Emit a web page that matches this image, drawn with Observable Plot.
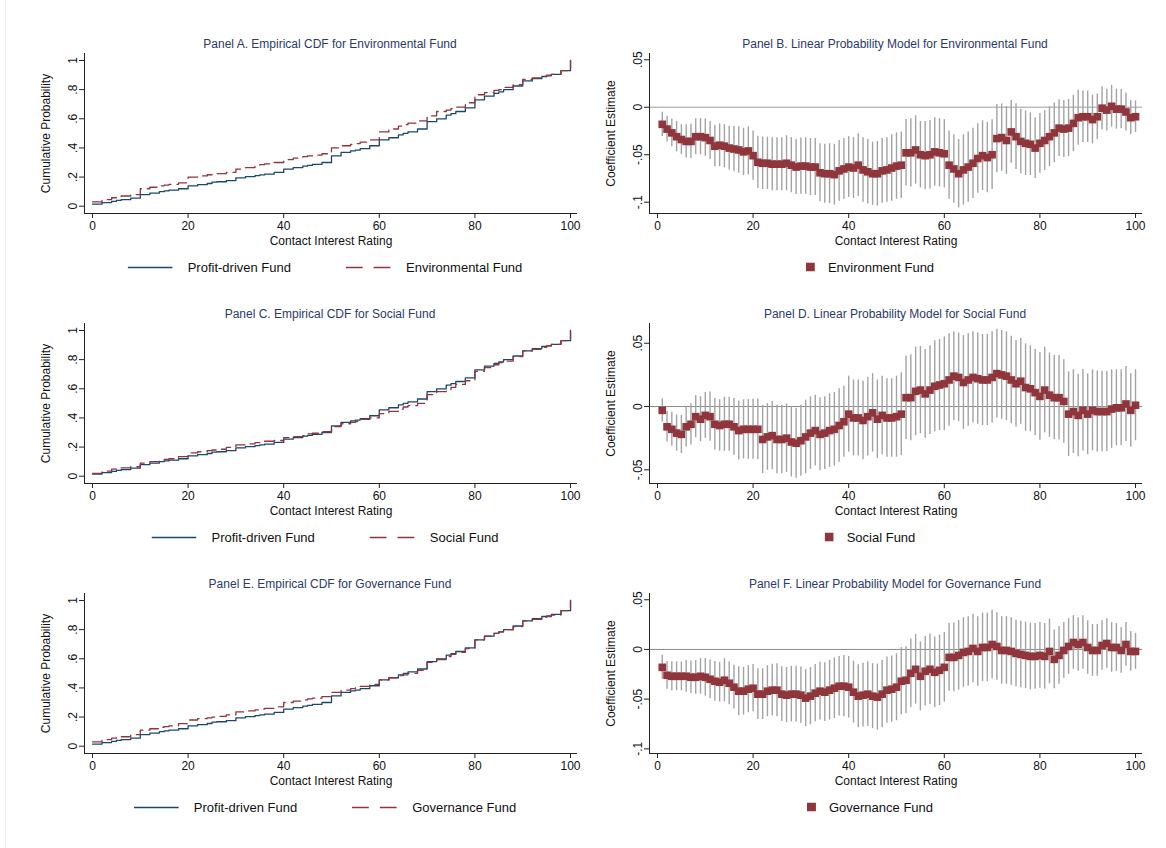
<!DOCTYPE html>
<html><head><meta charset="utf-8">
<script src="https://cdn.jsdelivr.net/npm/d3@7"></script>
<script src="https://cdn.jsdelivr.net/npm/@observablehq/plot@0.6"></script>
<style>
body{margin:0;background:#fff;font-family:"Liberation Sans",Arial,Helvetica,sans-serif;}
#root{position:relative;width:1166px;height:848px;overflow:hidden;background:#fff}
.title{position:absolute;font-size:12px;color:#2b3a67;white-space:nowrap;transform:translate(-50%,-50%)}
.legend{position:absolute;display:flex;align-items:center;font-size:13px;color:#111;white-space:nowrap;transform:translate(-50%,-50%)}
.edge{position:absolute;left:5px;top:0;width:1px;height:848px;background:#ececec}
</style></head><body><div id="root"><div class="edge"></div></div>
<script>
// ---------- data ----------
const xTicks = [0, 20, 40, 60, 80, 100];
const cdfYTicks = [0, 0.2, 0.4, 0.6, 0.8, 1];
const cdfYLabels = ["0", ".2", ".4", ".6", ".8", "1"];
const coefYTicksWide = [-0.1, -0.05, 0, 0.05];
const coefYLabelsWide = ["-.1", "-.05", "0", ".05"];
const coefYTicksNarrow = [-0.05, 0, 0.05];
const coefYLabelsNarrow = ["-.05", "0", ".05"];

const panelTitles = [
  "Panel A. Empirical CDF for Environmental Fund",
  "Panel B. Linear Probability Model for Environmental Fund",
  "Panel C. Empirical CDF for Social Fund",
  "Panel D. Linear Probability Model for Social Fund",
  "Panel E. Empirical CDF for Governance Fund",
  "Panel F. Linear Probability Model for Governance Fund"
];
const fundNames = ["Environmental Fund", "Social Fund", "Governance Fund"];
const coefLegendNames = ["Environment Fund", "Social Fund", "Governance Fund"];
const baseName = "Profit-driven Fund";

// Empirical CDF, read at these ratings (step-after)
const cdfX = [0,2,4,5,6,8, 10,12,14,15,16,18, 20,22,24,25,26,28, 30,32,34,35,36,38, 40,42,44,45,46,48,
  50,52,54,55,56,58, 60,62,64,65,66,68, 70,72,74,75,76,78, 80,82,84,85,86,88, 90,92,94,95,96,98, 100];
const cdfProfit = [0.015,0.025,0.033,0.04,0.045,0.055, 0.08,0.09,0.10,0.105,0.11,0.12, 0.14,0.148,0.156,0.165,0.168,0.175,
  0.195,0.203,0.21,0.215,0.22,0.232, 0.255,0.265,0.275,0.28,0.287,0.30, 0.345,0.37,0.38,0.385,0.395,0.415,
  0.455,0.47,0.49,0.50,0.51,0.53, 0.58,0.60,0.625,0.635,0.65,0.675, 0.73,0.755,0.775,0.785,0.80,0.825,
  0.86,0.875,0.89,0.895,0.905,0.93, 1.0];
const cdfEnv = [0.03,0.045,0.058,0.065,0.07,0.08, 0.12,0.13,0.14,0.145,0.15,0.16, 0.20,0.208,0.216,0.22,0.224,0.232,
  0.255,0.265,0.275,0.285,0.29,0.30, 0.32,0.33,0.34,0.345,0.35,0.36, 0.40,0.415,0.425,0.43,0.44,0.455,
  0.51,0.53,0.55,0.56,0.57,0.585, 0.62,0.65,0.66,0.67,0.68,0.71, 0.765,0.78,0.795,0.80,0.815,0.835,
  0.87,0.88,0.89,0.90,0.905,0.93, 1.0];
const cdfSocial = [0.02,0.035,0.048,0.055,0.057,0.065, 0.09,0.10,0.11,0.115,0.12,0.135, 0.16,0.168,0.175,0.18,0.185,0.198,
  0.215,0.222,0.23,0.235,0.24,0.245, 0.265,0.272,0.278,0.29,0.295,0.305, 0.34,0.36,0.37,0.375,0.39,0.40,
  0.43,0.445,0.46,0.475,0.485,0.50, 0.56,0.58,0.59,0.61,0.63,0.655, 0.72,0.745,0.765,0.78,0.79,0.82,
  0.86,0.87,0.885,0.895,0.905,0.93, 1.0];
const cdfGov = [0.03,0.045,0.055,0.06,0.065,0.08, 0.11,0.12,0.13,0.135,0.14,0.155, 0.18,0.19,0.195,0.20,0.205,0.215,
  0.235,0.242,0.25,0.255,0.26,0.27, 0.30,0.31,0.318,0.325,0.33,0.34, 0.37,0.385,0.395,0.40,0.41,0.425,
  0.455,0.47,0.485,0.49,0.50,0.52, 0.575,0.595,0.615,0.63,0.645,0.67, 0.73,0.755,0.775,0.785,0.80,0.82,
  0.86,0.87,0.885,0.89,0.90,0.93, 1.0];

// Linear probability model: rating thresholds 1..100
const ratings = d3.range(1, 101);
const estEnv = [-0.018,-0.023,-0.027,-0.031,-0.034,-0.036,-0.036,-0.031,-0.031,-0.032,
 -0.035,-0.041,-0.040,-0.041,-0.043,-0.044,-0.045,-0.047,-0.046,-0.051,
 -0.058,-0.059,-0.059,-0.060,-0.060,-0.060,-0.059,-0.061,-0.063,-0.062,
 -0.062,-0.063,-0.063,-0.069,-0.070,-0.070,-0.071,-0.067,-0.065,-0.063,
 -0.064,-0.061,-0.066,-0.068,-0.070,-0.070,-0.067,-0.066,-0.064,-0.062,
 -0.061,-0.048,-0.048,-0.045,-0.050,-0.051,-0.050,-0.047,-0.048,-0.049,
 -0.061,-0.065,-0.070,-0.066,-0.063,-0.059,-0.054,-0.051,-0.053,-0.050,
 -0.033,-0.032,-0.035,-0.026,-0.031,-0.036,-0.038,-0.039,-0.043,-0.038,
 -0.035,-0.031,-0.027,-0.022,-0.023,-0.022,-0.017,-0.011,-0.010,-0.010,
 -0.013,-0.010,-0.001,-0.003,0.001,-0.002,-0.002,-0.005,-0.011,-0.010];
const ciEnv = [0.0127,0.0136,0.0145,0.016,0.0157,0.0175,0.018,0.019,0.019,0.0195,
 0.020,0.0217,0.0225,0.0227,0.023,0.0238,0.0245,0.025,0.0253,0.026,
 0.0275,0.0276,0.0276,0.028,0.028,0.028,0.029,0.029,0.029,0.0297,
 0.0297,0.030,0.030,0.0306,0.031,0.0315,0.032,0.032,0.032,0.032,
 0.032,0.033,0.034,0.034,0.0332,0.034,0.034,0.034,0.035,0.035,
 0.035,0.035,0.036,0.036,0.035,0.036,0.036,0.036,0.036,0.036,
 0.036,0.036,0.036,0.037,0.037,0.037,0.0367,0.0367,0.037,0.0367,
 0.036,0.0355,0.0357,0.033,0.0346,0.034,0.034,0.033,0.032,0.0315,
 0.0315,0.0315,0.0315,0.030,0.030,0.030,0.0297,0.029,0.027,0.027,
 0.0257,0.024,0.0227,0.022,0.022,0.021,0.0206,0.020,0.018,0.0166];
const estSocial = [-0.003,-0.016,-0.018,-0.021,-0.022,-0.016,-0.014,-0.008,-0.010,-0.007,
 -0.008,-0.014,-0.015,-0.014,-0.014,-0.016,-0.019,-0.018,-0.018,-0.018,
 -0.018,-0.026,-0.024,-0.023,-0.026,-0.026,-0.025,-0.028,-0.029,-0.027,
 -0.024,-0.021,-0.019,-0.022,-0.021,-0.019,-0.018,-0.015,-0.012,-0.006,
 -0.009,-0.009,-0.011,-0.008,-0.005,-0.010,-0.007,-0.009,-0.009,-0.008,
 -0.006,0.007,0.007,0.012,0.013,0.010,0.013,0.016,0.017,0.018,
 0.021,0.024,0.023,0.019,0.021,0.023,0.022,0.021,0.021,0.023,
 0.026,0.025,0.024,0.021,0.018,0.020,0.015,0.014,0.011,0.008,
 0.013,0.009,0.007,0.007,0.004,-0.006,-0.004,-0.007,-0.003,-0.006,
 -0.003,-0.004,-0.004,-0.004,-0.002,-0.001,-0.001,0.002,-0.003,0.001];
const ciSocial = [0.0092,0.012,0.0134,0.0143,0.015,0.016,0.0163,0.0167,0.0178,0.018,
 0.0195,0.0204,0.0204,0.0214,0.0214,0.0224,0.0233,0.0233,0.0237,0.0237,
 0.024,0.027,0.0263,0.027,0.027,0.027,0.027,0.0276,0.0276,0.028,
 0.029,0.0287,0.028,0.0287,0.0287,0.029,0.029,0.029,0.028,0.030,
 0.030,0.030,0.031,0.031,0.031,0.031,0.031,0.031,0.031,0.032,
 0.0326,0.033,0.034,0.035,0.0345,0.035,0.035,0.036,0.036,0.037,
 0.0366,0.035,0.035,0.037,0.0365,0.036,0.036,0.036,0.036,0.036,
 0.035,0.035,0.035,0.0345,0.0342,0.034,0.0345,0.034,0.034,0.0346,
 0.0338,0.0333,0.0333,0.0333,0.033,0.0335,0.033,0.0326,0.0322,0.032,
 0.032,0.032,0.0318,0.0316,0.031,0.030,0.030,0.0296,0.029,0.028];
const estGov = [-0.018,-0.026,-0.027,-0.027,-0.027,-0.027,-0.028,-0.028,-0.027,-0.028,
 -0.030,-0.032,-0.033,-0.031,-0.034,-0.038,-0.042,-0.042,-0.040,-0.039,
 -0.045,-0.045,-0.042,-0.041,-0.041,-0.045,-0.046,-0.045,-0.045,-0.046,
 -0.049,-0.047,-0.044,-0.042,-0.043,-0.041,-0.039,-0.037,-0.037,-0.038,
 -0.043,-0.047,-0.046,-0.045,-0.047,-0.048,-0.045,-0.041,-0.040,-0.038,
 -0.032,-0.031,-0.024,-0.020,-0.027,-0.022,-0.020,-0.023,-0.021,-0.018,
 -0.008,-0.008,-0.006,-0.003,-0.002,0.001,-0.002,0.002,0.002,0.005,
 0.003,-0.001,-0.001,-0.002,-0.004,-0.005,-0.006,-0.007,-0.007,-0.006,
 -0.007,-0.002,-0.010,-0.006,-0.001,0.003,0.007,0.005,0.007,0.002,
 -0.001,-0.001,0.004,0.006,0.002,0.002,-0.001,0.005,-0.002,-0.002];
const ciGov = [0.012,0.014,0.0145,0.0145,0.0145,0.016,0.0163,0.017,0.018,0.0188,
 0.0195,0.020,0.020,0.0217,0.0217,0.022,0.0247,0.024,0.0237,0.0238,
 0.0255,0.0255,0.0257,0.026,0.0267,0.0275,0.0277,0.028,0.028,0.0283,
 0.0287,0.0288,0.0288,0.029,0.0295,0.030,0.0305,0.030,0.0308,0.031,
 0.0312,0.0317,0.032,0.0325,0.0327,0.0333,0.0338,0.0333,0.0333,0.0337,
 0.034,0.0337,0.0345,0.035,0.0347,0.035,0.0355,0.0355,0.0355,0.035,
 0.034,0.0345,0.035,0.035,0.035,0.0345,0.035,0.0345,0.0345,0.0345,
 0.034,0.034,0.034,0.034,0.0335,0.0335,0.0335,0.0335,0.033,0.033,
 0.033,0.0325,0.0295,0.029,0.028,0.028,0.027,0.027,0.027,0.027,
 0.026,0.026,0.025,0.025,0.025,0.024,0.023,0.022,0.020,0.018];

// ---------- layout / style ----------
const NAVY = "#1a476f", MAROON = "#90353b", CI = "#a3a3a3";
const FONT = '"Liberation Sans", Arial, Helvetica, sans-serif';
const W = 583, H = 215, ML = 84, MR = 6, MT = 13, MB = 42;
const xDomain = [-1.67, 101.46];
const root = document.getElementById("root");

function place(el, left, top) {
  el.style.position = "absolute"; el.style.left = left + "px"; el.style.top = top + "px";
  root.appendChild(el);
}
function addText(cls, text, cx, cy) {
  const d = document.createElement("div"); d.className = cls; d.textContent = text;
  d.style.left = cx + "px"; d.style.top = cy + "px"; root.appendChild(d); return d;
}
function frameMarks(yDomain, yTicks, yLabels, yTitle) {
  return [
    Plot.ruleX([xDomain[0]], {stroke: "#222", strokeWidth: 1}),
    Plot.ruleY([yDomain[0]], {stroke: "#222", strokeWidth: 1}),
    Plot.axisX({ticks: xTicks, tickSize: 5, tickPadding: 3, label: null, fontSize: 12, stroke: "#222"}),
    Plot.axisY({ticks: yTicks, tickFormat: d => yLabels[yTicks.indexOf(d)], tickRotate: -90,
      tickSize: 5, tickPadding: 3, label: null, fontSize: 12, stroke: "#222"}),
    Plot.text(["Contact Interest Rating"], {text: d => d, frameAnchor: "bottom", lineAnchor: "middle",
      textAnchor: "middle", dy: 28, fontSize: 12, fill: "#111"}),
    Plot.text([yTitle], {text: d => d, frameAnchor: "left", textAnchor: "middle", lineAnchor: "middle",
      dx: -38, rotate: -90, fontSize: 12, fill: "#111"})
  ];
}
function basePlot(yDomain, marks) {
  return Plot.plot({
    width: W, height: H, marginLeft: ML, marginRight: MR, marginTop: MT, marginBottom: MB,
    style: {fontFamily: FONT, fontSize: "12px", color: "#111", background: "transparent"},
    x: {domain: xDomain}, y: {domain: yDomain}, marks
  });
}

function cdfPanel(row, fundVals, fundName, title) {
  const top = row * 270;
  const table = cdfX.flatMap((x, i) => [
    {x, y: cdfProfit[i], s: baseName},
    {x, y: fundVals[i], s: fundName}
  ]);
  const yDomain = [-0.05, 1.048];
  const svg = basePlot(yDomain, [
    ...frameMarks(yDomain, cdfYTicks, cdfYLabels, "Cumulative Probability"),
    Plot.line(table.filter(d => d.s === baseName), {x: "x", y: "y", curve: "step-after", stroke: NAVY, strokeWidth: 1.3}),
    Plot.line(table.filter(d => d.s === fundName), {x: "x", y: "y", curve: "step-after", stroke: MAROON, strokeWidth: 1.3, strokeDasharray: "11,6"})
  ]);
  place(svg, 0, 40 + top);
  addText("title", title, 330, 44 + top);
  const lg = document.createElement("div"); lg.className = "legend";
  lg.style.left = "325px"; lg.style.top = (267 + top) + "px";
  lg.innerHTML =
    `<svg width="45" height="10"><line x1="0" x2="45" y1="5" y2="5" stroke="${NAVY}" stroke-width="1.3"/></svg>` +
    `<span style="margin-left:15px">${baseName}</span>` +
    `<svg width="45" height="10" style="margin-left:55px"><line x1="0" x2="45" y1="5" y2="5" stroke="${MAROON}" stroke-width="1.3" stroke-dasharray="17,11"/></svg>` +
    `<span style="margin-left:15px">${fundName}</span>`;
  root.appendChild(lg);
}

function coefPanel(row, est, ci, legendName, title, yDomain, yTicks, yLabels, zeroColor, zeroWidth) {
  const top = row * 270;
  const rows = ratings.map((x, i) => ({x, est: est[i], lo: est[i] - ci[i], hi: est[i] + ci[i]}));
  const svg = basePlot(yDomain, [
    Plot.ruleY([0], {stroke: zeroColor, strokeWidth: zeroWidth}),
    ...frameMarks(yDomain, yTicks, yLabels, "Coefficient Estimate"),
    Plot.ruleX(rows, {x: "x", y1: "lo", y2: "hi", stroke: CI, strokeWidth: 1.4}),
    Plot.dot(rows, {x: "x", y: "est", symbol: "square", r: 4.3, fill: MAROON, stroke: "none"})
  ]);
  place(svg, 565, 40 + top);
  addText("title", title, 895, 44 + top);
  const lg = document.createElement("div"); lg.className = "legend";
  lg.style.left = "870px"; lg.style.top = (267 + top) + "px";
  lg.innerHTML =
    `<svg width="9" height="9"><rect width="9" height="9" fill="${MAROON}"/></svg>` +
    `<span style="margin-left:13px">${legendName}</span>`;
  root.appendChild(lg);
}

cdfPanel(0, cdfEnv, fundNames[0], panelTitles[0]);
cdfPanel(1, cdfSocial, fundNames[1], panelTitles[2]);
cdfPanel(2, cdfGov, fundNames[2], panelTitles[4]);
coefPanel(0, estEnv, ciEnv, coefLegendNames[0], panelTitles[1], [-0.1119, 0.0566], coefYTicksWide, coefYLabelsWide, "#bdbdbd", 1.5);
coefPanel(1, estSocial, ciSocial, coefLegendNames[1], panelTitles[3], [-0.0608, 0.0656], coefYTicksNarrow, coefYLabelsNarrow, "#8a8a8a", 1);
coefPanel(2, estGov, ciGov, coefLegendNames[2], panelTitles[5], [-0.1047, 0.0563], coefYTicksWide, coefYLabelsWide, "#8a8a8a", 1);
</script></body></html>
